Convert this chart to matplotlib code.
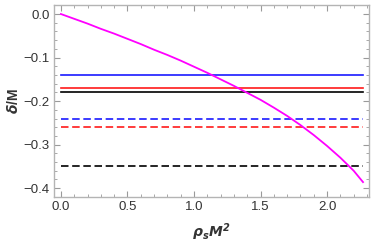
import numpy as np
import matplotlib.pyplot as plt
from matplotlib.ticker import MultipleLocator

# curve delta/M vs rho_s M^2
rho = [0.0, 0.1, 0.2, 0.3, 0.4, 0.5, 0.6, 0.7, 0.8, 0.9, 1.0, 1.1, 1.2,
       1.3, 1.4, 1.5, 1.6, 1.7, 1.8, 1.9, 2.0, 2.1, 2.2, 2.27]
delta = [0.0, -0.011, -0.022, -0.034, -0.045, -0.057, -0.069, -0.082,
         -0.094, -0.107, -0.121, -0.135, -0.150, -0.165, -0.181, -0.197,
         -0.215, -0.234, -0.255, -0.278, -0.303, -0.330, -0.360, -0.386]

# horizontal reference levels
solid_levels = [-0.14, -0.17, -0.18]
dashed_levels = [-0.24, -0.26, -0.35]
level_colors = ['#1a1aff', '#ff1a1a', '#000000']

plt.rcParams['font.family'] = ['Liberation Sans', 'DejaVu Sans']
plt.rcParams['mathtext.default'] = 'bfit'

fig = plt.figure(figsize=(3.74, 2.44), dpi=100)
ax = fig.add_axes([0.144, 0.193, 0.843, 0.787])

x0, x1 = rho[0], rho[-1]
for lev, c in zip(solid_levels, level_colors):
    ax.plot([x0, x1], [lev, lev], color=c, lw=1.2)
for lev, c in zip(dashed_levels, level_colors):
    ax.plot([x0, x1], [lev, lev], color=c, lw=1.2, dashes=(4.5, 2.2))

ax.plot(rho, delta, color='#ff00ff', lw=1.3)

ax.set_xlim(-0.053, 2.316)
ax.set_ylim(-0.42, 0.021)

ax.xaxis.set_major_locator(MultipleLocator(0.5))
ax.xaxis.set_minor_locator(MultipleLocator(0.1))
ax.yaxis.set_major_locator(MultipleLocator(0.1))
ax.yaxis.set_minor_locator(MultipleLocator(0.02))
ax.xaxis.set_major_formatter(plt.FuncFormatter(lambda v, p: f"{v:.1f}"))
ax.yaxis.set_major_formatter(plt.FuncFormatter(
    lambda v, p: ("\u2212" if v < -1e-9 else "") + f"{abs(v):.1f}"))

for s in ax.spines.values():
    s.set_color('#b4b4b4')
    s.set_linewidth(1.0)
ax.tick_params(which='both', direction='in', top=True, right=True,
               color='#9a9a9a', labelsize=9.5, labelcolor='#333333', pad=3)
ax.tick_params(which='major', length=4, width=0.8)
ax.tick_params(which='minor', length=2, width=0.6)

ax.set_xlabel(r'$\rho_s M^2$', fontsize=10, color='#333333', labelpad=6)
ax.set_ylabel(r'$\delta$/M', fontsize=10, fontweight='bold', color='#333333',
              labelpad=2)

fig.savefig('out.png', dpi=100)
